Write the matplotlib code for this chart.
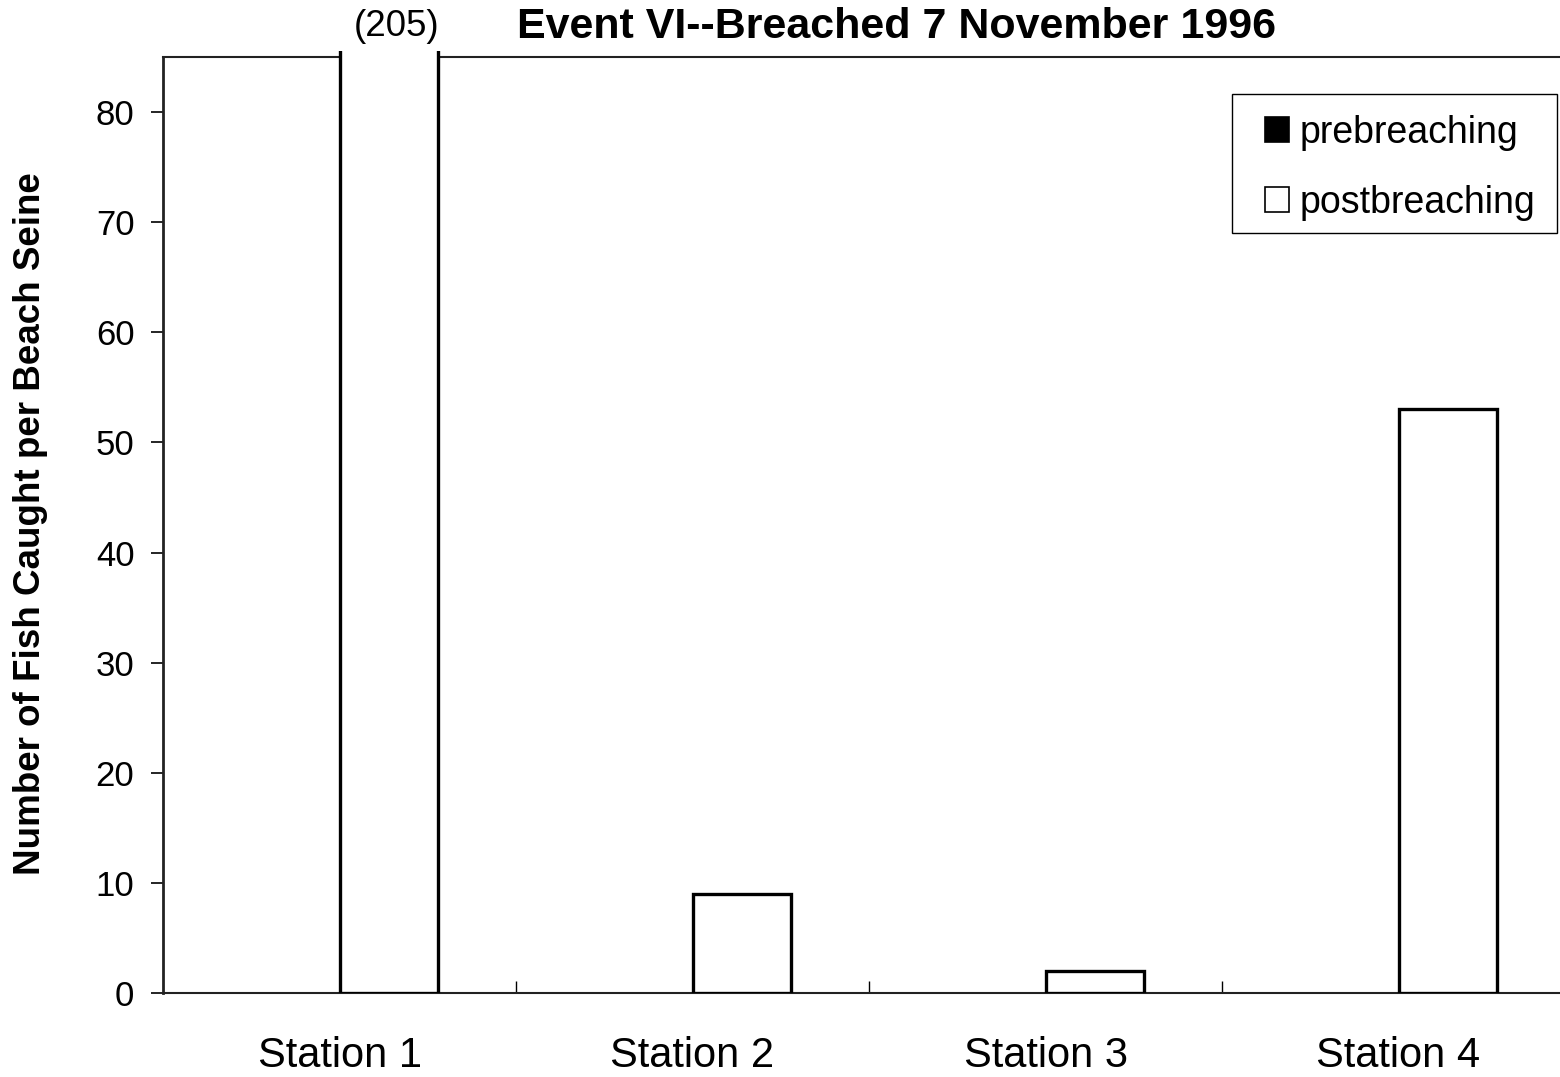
import matplotlib
matplotlib.use("Agg")
import matplotlib.pyplot as plt
import matplotlib.transforms as mtransforms
from matplotlib.patches import Patch, Rectangle
import numpy as np

plt.rcParams['font.family'] = ['Liberation Sans', 'DejaVu Sans']

stations = ["Station 1", "Station 2", "Station 3", "Station 4"]
prebreaching = [0, 0, 0, 0]
postbreaching = [205, 9, 2, 53]
y_ticks = [0, 10, 20, 30, 40, 50, 60, 70, 80]
title = "Event VI--Breached 7 November 1996"
ylabel = "Number of Fish Caught per Beach Seine"

W, H = 1560, 1077
fig = plt.figure(figsize=(W / 100, H / 100), dpi=100)
left, right, bottom, top = 163, 1575, 993, 57
ax = fig.add_axes([left / W, 1 - bottom / H, (right - left) / W, (bottom - top) / H])

x = np.arange(len(stations))
w = 0.278
ymax = 85

pre = ax.bar(x - w / 2, prebreaching, w, color="black", linewidth=0, zorder=3)
post = ax.bar(x + w / 2, postbreaching, w, color="white", edgecolor="black",
              linewidth=2.4, zorder=3)

# let the off-scale bar poke a few pixels past the top edge of the plot box
clip = mtransforms.TransformedBbox(mtransforms.Bbox([[0, 0], [1, 1.006]]), ax.transAxes)
for b in post:
    b.set_clip_box(clip)

# value of the bar that runs off the scale
for xi, v in zip(x, postbreaching):
    if v > ymax:
        ax.annotate(f"({v})", xy=(xi + w / 2, 1.0), xycoords=("data", "axes fraction"),
                    xytext=(5.8, 21.6), textcoords="offset points",
                    ha="center", va="center", fontsize=26.5)

ax.set_xlim(-0.5, len(stations) - 0.5)
ax.set_ylim(0, ymax)

ax.set_yticks(y_ticks)
ax.tick_params(axis="y", direction="out", length=8.6, width=1.2, pad=12, labelsize=25)
ax.set_xticks(x)
ax.set_xticklabels(stations)
ax.tick_params(axis="x", which="major", length=0, pad=31, labelsize=30)
ax.set_xticks(np.arange(0.5, len(stations) - 0.5, 1), minor=True)
ax.tick_params(axis="x", which="minor", direction="in", length=8.6, width=1.0)

for s in ["left", "bottom", "top", "right"]:
    ax.spines[s].set_linewidth(1.5)
    ax.spines[s].set_color("#222222")
ax.spines["left"].set_linewidth(2)

fig.text(31 / W, 1 - 524 / H, ylabel, rotation=90, ha="center", va="center",
         fontsize=26.5, fontweight="bold")
fig.text(897 / W, 1 - 27 / H, title, ha="center", va="center",
         fontsize=31, fontweight="bold")

# legend entries, with a plain rectangular frame drawn around them
handles = [Patch(facecolor="black", edgecolor="black", linewidth=1.2),
           Patch(facecolor="white", edgecolor="black", linewidth=1.2)]
leg = ax.legend(handles, ["prebreaching", "postbreaching"],
                loc="upper left",
                bbox_to_anchor=(1265 / W, 1 - 115 / H), bbox_transform=fig.transFigure,
                fontsize=27, frameon=False,
                handlelength=0.65, handleheight=0.65, handletextpad=0.27,
                labelspacing=0.9, borderpad=0, borderaxespad=0)
leg.set_zorder(6)
frame = Rectangle((1232 / W, 1 - 233 / H), (1557 - 1232) / W, (233 - 94) / H,
                  transform=fig.transFigure, facecolor="white", edgecolor="black",
                  linewidth=1.0, zorder=5, clip_on=False)
ax.add_patch(frame)

fig.savefig("out.png", dpi=100, facecolor="white")
